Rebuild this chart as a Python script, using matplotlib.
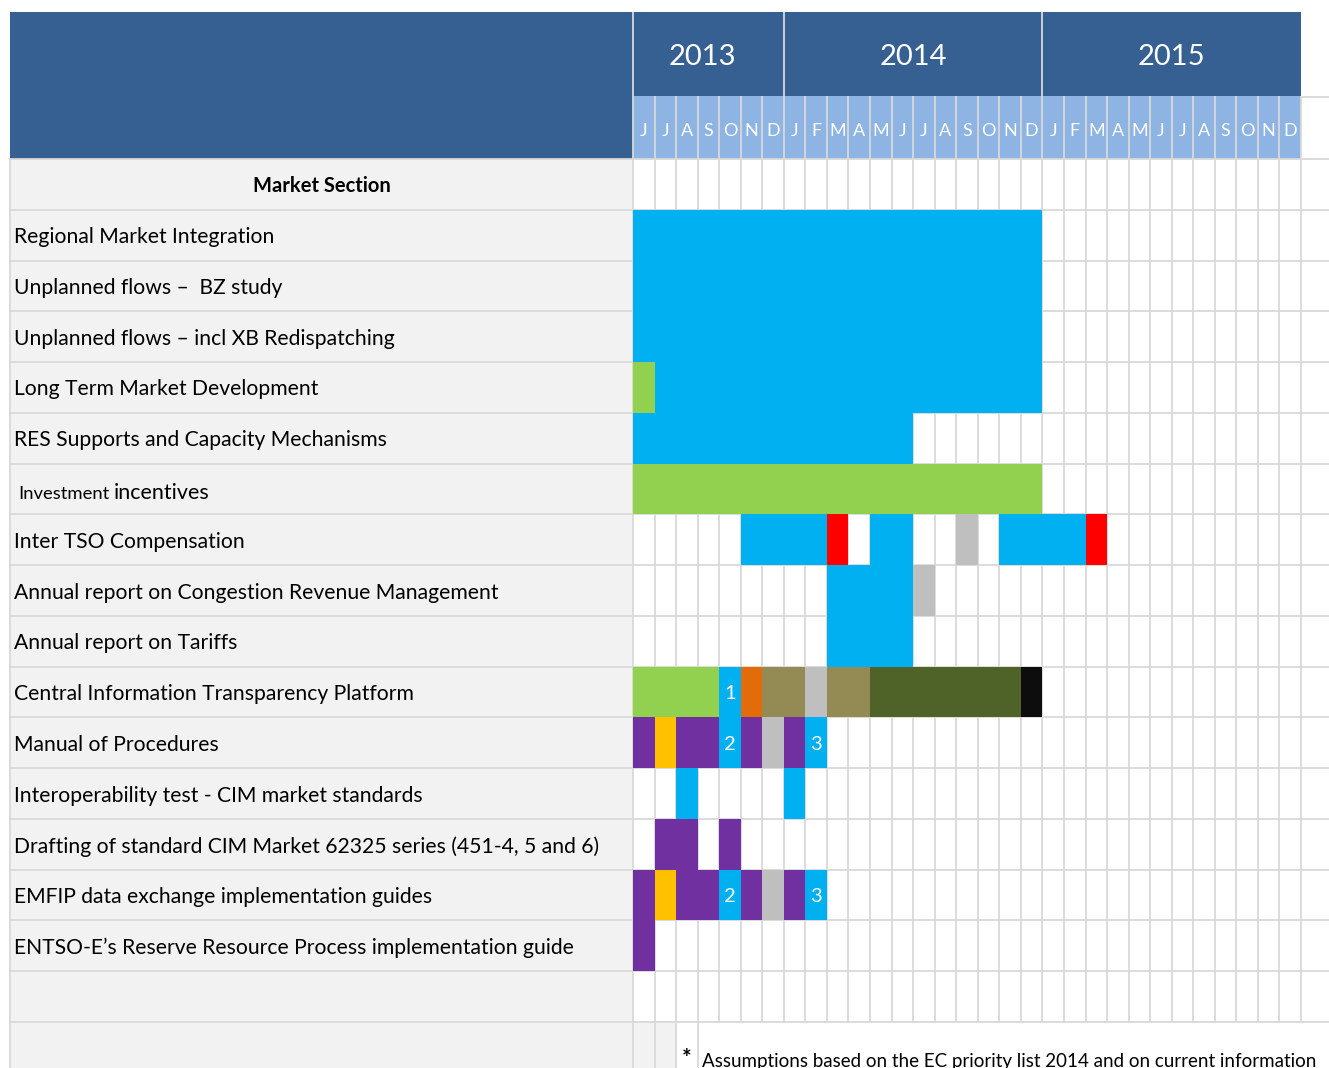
import matplotlib
matplotlib.use("Agg")
import matplotlib.pyplot as plt
from matplotlib.patches import Rectangle

plt.rcParams["font.family"] = ["Lato", "DejaVu Sans"]

# ---- data -------------------------------------------------------------
YEARS = ["2013", "2014", "2015"]
YEAR_MONTHS = [7, 12, 12]
MONTHS = list("JJASOND") + list("JFMAMJJASOND") + list("JFMAMJJASOND")

SECTION = "Market Section"
TASKS = [
    "Regional Market Integration",
    "Unplanned flows \u2013  BZ study",
    "Unplanned flows \u2013 incl XB Redispatching",
    "Long Term Market Development",
    "RES Supports and Capacity Mechanisms",
    "Investment incentives",
    "Inter TSO Compensation",
    "Annual report on Congestion Revenue Management",
    "Annual report on Tariffs",
    "Central Information Transparency Platform",
    "Manual of Procedures",
    "Interoperability test - CIM market standards",
    "Drafting of standard CIM Market 62325 series (451-4, 5 and 6)",
    "EMFIP data exchange implementation guides",
    "ENTSO-E\u2019s Reserve Resource Process implementation guide",
]

# one entry per coloured block: task row (1 = first task), first month
# (0 = Jun 2013), number of months, phase, text in the cell
SEG_ROW = [1, 2, 3, 4, 4, 5, 6,
           7, 7, 7, 7, 7, 7,
           8, 8, 9,
           10, 10, 10, 10, 10, 10, 10, 10,
           11, 11, 11, 11, 11, 11, 11, 11,
           12, 12, 13, 13,
           14, 14, 14, 14, 14, 14, 14, 14,
           15]
SEG_START = [0, 0, 0, 0, 1, 0, 0,
             5, 9, 11, 15, 17, 21,
             9, 13, 9,
             0, 4, 5, 6, 8, 9, 11, 18,
             0, 1, 2, 4, 5, 6, 7, 8,
             2, 7, 1, 4,
             0, 1, 2, 4, 5, 6, 7, 8,
             0]
SEG_LEN = [19, 19, 19, 1, 18, 13, 19,
           4, 1, 2, 1, 4, 1,
           4, 1, 4,
           4, 1, 1, 2, 1, 2, 7, 1,
           1, 1, 2, 1, 1, 1, 1, 1,
           1, 1, 2, 1,
           1, 1, 2, 1, 1, 1, 1, 1,
           1]
SEG_PHASE = ["work", "work", "work", "ongoing", "work", "work", "ongoing",
             "work", "deadline", "work", "review", "work", "deadline",
             "work", "review", "work",
             "ongoing", "work", "approval", "build", "review", "build", "operate", "golive",
             "draft", "comment", "draft", "work", "draft", "review", "draft", "work",
             "work", "work", "draft", "draft",
             "draft", "comment", "draft", "work", "draft", "review", "draft", "work",
             "draft"]
SEG_TEXT = [""] * 17 + ["1"] + [""] * 9 + ["2", "", "", "", "3"] + [""] * 7 + \
           ["2", "", "", "", "3"] + [""]

FOOTNOTE = "Assumptions based on the EC priority list 2014 and on current information"

PHASE_COLORS = {
    "work": "#00B0F0", "ongoing": "#92D050", "deadline": "#FF0000",
    "review": "#BFBFBF", "approval": "#E26B0A", "build": "#948A54",
    "operate": "#4F6228", "golive": "#0D0D0D", "draft": "#7030A0",
    "comment": "#FFC000",
}

# ---- layout (pixels of the 1329x1068 image) ----------------------------
W, H = 1329, 1068
GRID_X0, GRID_X1 = 633, 1301
GRID_Y0, GRID_Y1 = 159, 1022
N_MONTHS = len(MONTHS)
N_ROWS = len(TASKS) + 2          # section row + tasks + empty row
COL_W = (GRID_X1 - GRID_X0) / N_MONTHS
ROW_H = (GRID_Y1 - GRID_Y0) / N_ROWS


def dx(px):
    return (px - GRID_X0) / COL_W


def dy(py):
    return (py - GRID_Y0) / ROW_H - 0.5


HEADER = "#366092"
MONTH_BAND = "#8DB4E2"
LABEL_BG = "#F2F2F2"
GRID = "#D9D9D9"

fig = plt.figure(figsize=(W / 100, H / 100), dpi=100)
ax = fig.add_axes([0, 0, 1, 1])
ax.set_xlim(dx(0), dx(W))
ax.set_ylim(dy(H), dy(0))
ax.axis("off")

bottom = dy(H)
last = N_ROWS - 0.5

# backgrounds
ax.add_patch(Rectangle((dx(10), -0.5), 0 - dx(10), bottom + 0.5, color=LABEL_BG, lw=0, zorder=0))
ax.add_patch(Rectangle((0, last), 2, bottom - last, color=LABEL_BG, lw=0, zorder=0))
ax.add_patch(Rectangle((dx(10), dy(12)), 0 - dx(10), -0.5 - dy(12), color=HEADER, lw=0, zorder=1))
ax.add_patch(Rectangle((0, dy(12)), N_MONTHS, dy(96) - dy(12), color=HEADER, lw=0, zorder=1))
ax.add_patch(Rectangle((0, dy(96)), N_MONTHS, -0.5 - dy(96), color=MONTH_BAND, lw=0, zorder=1))

# grid lines
lw = 1.3
for j in range(N_MONTHS + 1):
    top = dy(12) if j in (0, 7, 19) else dy(96)
    end = bottom if j <= 3 else last
    ax.plot([j, j], [top, end], color=GRID, lw=lw, zorder=2, solid_capstyle="butt")
for r in range(N_ROWS + 1):
    ax.plot([dx(10), dx(W)], [r - 0.5, r - 0.5], color=GRID, lw=lw, zorder=2)
ax.plot([N_MONTHS, dx(W)], [dy(97), dy(97)], color=GRID, lw=lw, zorder=2)
ax.plot([dx(10), dx(10)], [-0.5, bottom], color=GRID, lw=lw, zorder=2)

# header text
start = 0
for k, (yr, n) in enumerate(zip(YEARS, YEAR_MONTHS)):
    shift = -0.28 if k == 0 else 0
    ax.text(start + n / 2 + shift, dy(57), yr, color="white", fontsize=21,
            ha="center", va="center", zorder=5)
    start += n
for j, m in enumerate(MONTHS):
    ax.text(j + 0.5, dy(131), m, color="white", fontsize=13, ha="center", va="center", zorder=5)

# row labels
ax.text(dx(322), 0.03, SECTION, fontsize=14.5, fontweight="bold", ha="center", va="center", zorder=5)
for i, label in enumerate(TASKS, start=1):
    if label.startswith("Investment "):
        ax.text(dx(18), i + 0.2, "Investment", fontsize=13.3, ha="left", va="baseline", zorder=5)
        ax.text(dx(114), i + 0.2, label.split(" ", 1)[1], fontsize=15.5, ha="left",
                va="baseline", zorder=5)
    else:
        ax.text(dx(14), i + 0.04, label, fontsize=15.2, ha="left", va="center", zorder=5)

# bars
ax.barh(SEG_ROW, SEG_LEN, left=SEG_START, height=1.0,
        color=[PHASE_COLORS[p] for p in SEG_PHASE], linewidth=0, zorder=3)
for r, s, n, t in zip(SEG_ROW, SEG_START, SEG_LEN, SEG_TEXT):
    if t:
        ax.text(s + n / 2, r + 0.03, t, color="white", fontsize=14.5, ha="center", va="center", zorder=5)

# footnote
ax.text(dx(682), dy(1058), "*", fontsize=16, fontweight="bold", ha="left", va="center", zorder=5)
ax.text(dx(702), dy(1061), FOOTNOTE, fontsize=13.5, ha="left", va="center", zorder=5)

fig.savefig("out.png", dpi=100)
